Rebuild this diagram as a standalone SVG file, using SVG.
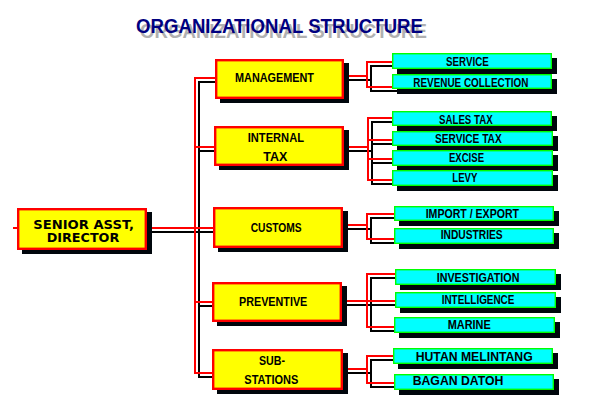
<svg xmlns="http://www.w3.org/2000/svg" xmlns:xlink="http://www.w3.org/1999/xlink" width="600" height="400" viewBox="0 0 600 400">
<style>
.bg{fill:#ffffff}
.wire{fill:none;stroke:#ff0000;stroke-width:2;stroke-linecap:square;stroke-linejoin:miter}
.wire-sh{fill:none;stroke:#000000;stroke-width:2;stroke-linecap:square;stroke-linejoin:miter}
.sh{fill:#00060c}
.ybox{fill:#ffff00;stroke:#ff0000;stroke-width:2.4}
.cbox{fill:#00ffff;stroke:#00ff00;stroke-width:1.4}
.t{font-family:"Liberation Sans",Arial,sans-serif;font-weight:bold;font-size:12.5px;fill:#000000}
.tc{font-family:"Liberation Sans",Arial,sans-serif;font-weight:bold;font-size:12.5px;fill:#000000}
.ts{font-family:"DejaVu Sans","Liberation Sans",sans-serif;font-weight:bold;font-size:11.5px;fill:#000000}
.title{fill:#000080}
.title-sh{fill:#b0b0b0}
</style>
<defs>
<text id="titletext" x="136" y="32.5" font-family="Liberation Sans, Arial, sans-serif" font-weight="bold" font-size="20.5" textLength="287" lengthAdjust="spacingAndGlyphs">ORGANIZATIONAL STRUCTURE</text>
<path id="wires" d="M14,228 H213
M195,78 V373
M195,78 H215 M195,147 H214 M195,302 H212 M195,373 H212
M344,76 H367 M367,62 V87 M367,62 H392 M367,87 H392
M344,147 H368 M368,118 V180 M368,118 H392 M368,140 H392 M368,159 H392 M368,180 H392
M343,225 H367 M367,214 V239 M367,214 H394 M367,239 H394
M342,301 H367 M367,274 V327 M367,274 H395 M367,301 H395 M367,327 H394
M343,369 H367 M367,356 V383 M367,356 H393 M367,383 H394"/>
</defs>
<rect class="bg" x="0" y="0" width="600" height="400"/>
<g id="title">
<use xlink:href="#titletext" href="#titletext" class="title-sh" transform="translate(4,5)"/>
<use xlink:href="#titletext" href="#titletext" class="title"/>
</g>
<g id="connectors">
<use xlink:href="#wires" href="#wires" class="wire-sh" transform="translate(4,4)"/>
<use xlink:href="#wires" href="#wires" class="wire"/>
</g>
<g id="senior">
<rect class="sh" x="22" y="212" width="130" height="42"/>
<rect class="ybox" x="18.2" y="209.2" width="127.6" height="39.6"/>
<text class="ts" x="33.3" y="228.5" textLength="100.7" lengthAdjust="spacingAndGlyphs">SENIOR ASST,</text>
<text class="ts" x="46.7" y="242" textLength="72.6" lengthAdjust="spacingAndGlyphs">DIRECTOR</text>
</g>
<g id="management">
<rect class="sh" x="220" y="63" width="129" height="40"/>
<rect class="ybox" x="216.2" y="60.2" width="126.6" height="37.6"/>
<text class="t" x="235" y="82" textLength="79" lengthAdjust="spacingAndGlyphs">MANAGEMENT</text>
</g>
<g id="internal-tax">
<rect class="sh" x="219" y="130" width="130" height="40"/>
<rect class="ybox" x="215.2" y="127.2" width="127.6" height="37.6"/>
<text class="t" x="247.7" y="142.3" textLength="56.3" lengthAdjust="spacingAndGlyphs">INTERNAL</text>
<text class="t" x="263.3" y="160.7" textLength="24" lengthAdjust="spacingAndGlyphs">TAX</text>
</g>
<g id="customs">
<rect class="sh" x="218" y="211" width="130" height="41"/>
<rect class="ybox" x="214.2" y="208.2" width="127.6" height="38.6"/>
<text class="t" x="250.7" y="231.7" textLength="51" lengthAdjust="spacingAndGlyphs">CUSTOMS</text>
</g>
<g id="preventive">
<rect class="sh" x="217" y="286" width="130" height="40"/>
<rect class="ybox" x="213.2" y="283.2" width="127.6" height="37.6"/>
<text class="t" x="239" y="305.7" textLength="68.3" lengthAdjust="spacingAndGlyphs">PREVENTIVE</text>
</g>
<g id="sub-stations">
<rect class="sh" x="217" y="353" width="131" height="41"/>
<rect class="ybox" x="213.2" y="350.2" width="128.6" height="38.6"/>
<text class="t" x="259" y="365" textLength="26" lengthAdjust="spacingAndGlyphs">SUB-</text>
<text class="t" x="244.3" y="384" textLength="54" lengthAdjust="spacingAndGlyphs">STATIONS</text>
</g>
<g id="service">
<rect class="sh" x="397" y="58" width="160" height="16"/>
<rect class="cbox" x="392.7" y="53.7" width="158.6" height="14.6"/>
<text class="tc" x="446" y="65.7" textLength="42.7" lengthAdjust="spacingAndGlyphs">SERVICE</text>
</g>
<g id="revenue-collection">
<rect class="sh" x="397" y="79" width="160" height="15"/>
<rect class="cbox" x="392.7" y="74.7" width="158.6" height="13.6"/>
<text class="tc" x="413.3" y="86.5" textLength="115" lengthAdjust="spacingAndGlyphs">REVENUE COLLECTION</text>
</g>
<g id="sales-tax">
<rect class="sh" x="397" y="116" width="160" height="15"/>
<rect class="cbox" x="392.7" y="111.7" width="158.6" height="13.6"/>
<text class="tc" x="439" y="123.5" textLength="53.7" lengthAdjust="spacingAndGlyphs">SALES TAX</text>
</g>
<g id="service-tax">
<rect class="sh" x="397" y="136" width="161" height="15"/>
<rect class="cbox" x="392.7" y="131.7" width="159.6" height="13.6"/>
<text class="tc" x="435" y="142.5" textLength="66.7" lengthAdjust="spacingAndGlyphs">SERVICE TAX</text>
</g>
<g id="excise">
<rect class="sh" x="397" y="155" width="161" height="16"/>
<rect class="cbox" x="392.7" y="150.7" width="159.6" height="14.6"/>
<text class="tc" x="449" y="162" textLength="35" lengthAdjust="spacingAndGlyphs">EXCISE</text>
</g>
<g id="levy">
<rect class="sh" x="397" y="175" width="161" height="16"/>
<rect class="cbox" x="392.7" y="170.7" width="159.6" height="14.6"/>
<text class="tc" x="452.3" y="182" textLength="25" lengthAdjust="spacingAndGlyphs">LEVY</text>
</g>
<g id="import-export">
<rect class="sh" x="399" y="211" width="160" height="15"/>
<rect class="cbox" x="394.7" y="206.7" width="158.6" height="13.6"/>
<text class="tc" x="425.7" y="217.7" textLength="93.3" lengthAdjust="spacingAndGlyphs">IMPORT / EXPORT</text>
</g>
<g id="industries">
<rect class="sh" x="399" y="233" width="160" height="16"/>
<rect class="cbox" x="394.7" y="228.7" width="158.6" height="14.6"/>
<text class="tc" x="440.7" y="239.3" textLength="62" lengthAdjust="spacingAndGlyphs">INDUSTRIES</text>
</g>
<g id="investigation">
<rect class="sh" x="400" y="274" width="161" height="16"/>
<rect class="cbox" x="395.7" y="269.7" width="159.6" height="14.6"/>
<text class="tc" x="436.7" y="281.7" textLength="82.7" lengthAdjust="spacingAndGlyphs">INVESTIGATION</text>
</g>
<g id="intelligence">
<rect class="sh" x="400" y="297" width="161" height="16"/>
<rect class="cbox" x="395.7" y="292.7" width="159.6" height="14.6"/>
<text class="tc" x="441.7" y="304" textLength="72.7" lengthAdjust="spacingAndGlyphs">INTELLIGENCE</text>
</g>
<g id="marine">
<rect class="sh" x="399" y="322" width="161" height="16"/>
<rect class="cbox" x="394.7" y="317.7" width="159.6" height="14.6"/>
<text class="tc" x="447.7" y="329.3" textLength="43" lengthAdjust="spacingAndGlyphs">MARINE</text>
</g>
<g id="hutan-melintang">
<rect class="sh" x="398" y="353" width="160" height="16"/>
<rect class="cbox" x="393.7" y="348.7" width="158.6" height="14.6"/>
<text class="tc" x="415.7" y="360.7" textLength="117" lengthAdjust="spacingAndGlyphs">HUTAN MELINTANG</text>
</g>
<g id="bagan-datoh">
<rect class="sh" x="399" y="379" width="160" height="16"/>
<rect class="cbox" x="394.7" y="374.7" width="158.6" height="14.6"/>
<text class="tc" x="412.7" y="385" textLength="90.7" lengthAdjust="spacingAndGlyphs">BAGAN DATOH</text>
</g>
</svg>
